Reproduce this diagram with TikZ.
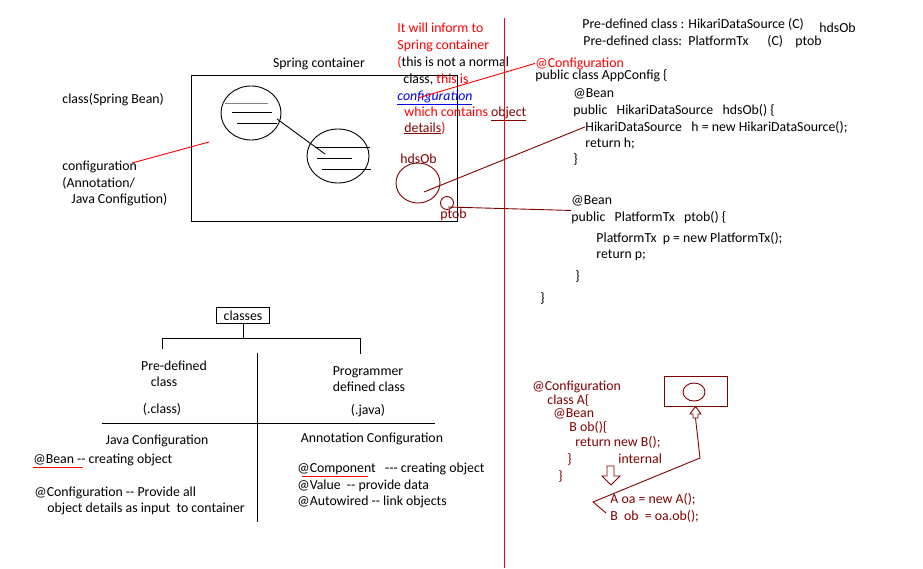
\documentclass[tikz,border=0pt]{standalone}
\usepackage{fontspec}
\setmainfont{Carlito}
\usetikzlibrary{shapes.geometric}
\definecolor{maroon}{RGB}{128,0,0}
\definecolor{lnblue}{RGB}{0,0,235}

\begin{document}
\begin{tikzpicture}[x=1pt,y=-1pt,line width=0.9pt,
  txt/.style={anchor=base west,inner sep=0pt,font=\fontsize{13.8}{16}\selectfont},
  ctxt/.style={anchor=base,inner sep=0pt,font=\fontsize{13.8}{16}\selectfont},
  obj/.style={draw,ellipse,inner sep=0pt},
  redtxt/.style={txt,text=red},
  mtxt/.style={txt,text=maroon}]
\useasboundingbox (0,0) rectangle (923,568);

% spring container
\node[txt] (bean) at (62,103) {class(Spring Bean)};
\node[txt] (conf1) at (62,170) {configuration};
\node[txt] (conf2) at (62,187) {(Annotation/};
\node[txt] (conf3) at (71,203) {Java Configution)};
\node[ctxt] (contlbl) at (319,67) {Spring container};
\draw (191,75) rectangle (457,221);
\node[obj,minimum width=60,minimum height=54] (e1) at (251,113) {};
\node[obj,minimum width=62,minimum height=54] (e2) at (338,156) {};
\draw [gray,thick] (225,103)--(268,103);
\draw (232,112)--(272,112);
\draw (237,123)--(277,123);
\draw (315,147)--(370,147);
\draw (317,158)--(352,158);
\draw (322,169)--(371,169);
\draw (277,119)--(325,154);
\coordinate (confend) at (132,163);
\draw [red] (confend)--(209,142);

\node[obj,maroon,minimum width=44,minimum height=40] (hds) at (418,183) {};
\node[mtxt] (hdslbl) at (400,163) {hdsOb};
\node[obj,maroon,minimum width=13,minimum height=13] (pt) at (447,203) {};
\node[mtxt] (ptlbl) at (440,218) {ptob};

% note
\node[redtxt] (n1) at (397,32) {It will inform to};
\node[redtxt] (n2) at (397,49) {Spring container};
\node[txt] (n3) at (397,66) {\textcolor{red}{(}this is not a normal};
\node[txt] (n4) at (403,83) {class, \textcolor{red}{this is}};
\node[txt,text=lnblue] (n5) at (397,100) {\underline{\textit{configuration}}};
\node[redtxt] (n6) at (404,116) {which contains \textcolor{maroon}{\underline{object}}};
\node[redtxt] (n7) at (404,132) {\textcolor{maroon}{\underline{details}})};

\draw [red] (504,18)--(504,568);

% code
\node[txt] (p1) at (582,28) {Pre-defined class : HikariDataSource (C)};
\node[txt] (p1b) at (819,32) {hdsOb};
\node[txt] (p2) at (583,45) {Pre-defined class:\ \ PlatformTx};
\node[txt] (p2b) at (767,45) {(C)};
\node[txt] (p2c) at (795,45) {ptob};
\node[redtxt] (c0) at (535,67) {@Configuration};
\node[txt] (c1) at (535,79) {public class AppConfig \{};
\node[txt] (c2) at (573,97) {@Bean};
\node[txt] (c3) at (573,114) {public\ \ \ HikariDataSource\ \ \ hdsOb() \{};
\node[txt] (c4) at (585,131) {HikariDataSource\ \ \ h = new HikariDataSource();};
\node[txt] (c5) at (585,147) {return h;};
\node[txt] (c6) at (573,163) {\}};
\node[txt] (c7) at (571,204) {@Bean};
\node[txt] (c8) at (571,221) {public\ \ \ PlatformTx\ \ \ ptob() \{};
\node[txt] (c9) at (596,242) {PlatformTx\ \ p = new PlatformTx();};
\node[txt] (c10) at (596,258) {return p;};
\node[txt] (c11) at (575,280) {\}};
\node[txt] (c12) at (540,302) {\}};

\coordinate (n5a) at (418,98);
\draw [red] (n5a)--(c0.west);
\coordinate (hdsin) at (424,192);
\draw [maroon] (hdsin)--(c4.west);
\coordinate (ptin) at (448,207);
\draw [maroon] (ptin)--(c8.north west);

% classes tree
\node[draw,ctxt,inner sep=2pt,minimum width=53,minimum height=16] (cls) at (243,320) {classes};
\draw (cls.south)--(243,338);
\draw (162,349)--(162,338)--(360,338)--(360,354);
\draw (257,353)--(257,522);
\draw (102,423)--(435,423);
\node[ctxt] (pd1) at (174,370) {Pre-defined};
\node[ctxt] (pd2) at (164,386) {class};
\node[ctxt] (pd3) at (162,413) {(.class)};
\node[ctxt] (pg1) at (368,375) {Programmer};
\node[ctxt] (pg2) at (369,391) {defined class};
\node[ctxt] (pg3) at (368,414) {(.java)};
\node[ctxt] (jc) at (157,444) {Java Configuration};
\node[txt] (jb) at (33,463) {@Bean -{}- creating object};
\draw [red] (33,467)--(83,467);
\node[txt] (jc1) at (34,496) {@Configuration -{}- Provide all};
\node[txt] (jc2) at (47,512) {object details as input\ \ to container};
\node[ctxt] (ac) at (372,442) {Annotation Configuration};
\node[txt] (ac1) at (297,472) {@Component\ \ \ -{}-{}- creating object};
\draw [red] (302,476)--(368,476);
\node[txt] (ac2) at (297,489) {@Value\ \ -{}- provide data};
\node[txt] (ac3) at (297,505) {@Autowired -{}- link objects};

% internal
\node[mtxt] (a1) at (532,390) {@Configuration};
\node[mtxt] (a2) at (547,404) {class A\{};
\node[mtxt] (a3) at (553,417) {@Bean};
\node[mtxt] (a4) at (569,431) {B ob()\{};
\node[mtxt] (a5) at (575,446) {return new B();};
\node[mtxt] (a6) at (567,463) {\}};
\node[mtxt] (a7) at (618,463) {internal};
\node[mtxt] (a8) at (558,480) {\}};
\node[mtxt] (a9) at (610,503) {A oa = new A();};
\node[mtxt] (a10) at (610,520) {B\ \ ob\ \ = oa.ob();};
\node[draw=maroon,minimum width=63,minimum height=30,inner sep=0pt] (ctr) at (695.5,391) {};
\node[obj,maroon,minimum width=22,minimum height=18] (ob) at (694,392) {};
\draw [maroon] (607,466)--(614,466)--(614,476)--(620,476)--(611,485)--(602,476)--(607,476)--cycle;
\draw [maroon] (ctr.south)--(690,414)--(693,414)--(693,418)--(698,418)--(698,414)--(701,414)--cycle;
\coordinate (tip) at (700,458);
\draw [maroon] (695.5,418)--(tip)--(593,502)--(606,513);

\end{tikzpicture}
\end{document}
